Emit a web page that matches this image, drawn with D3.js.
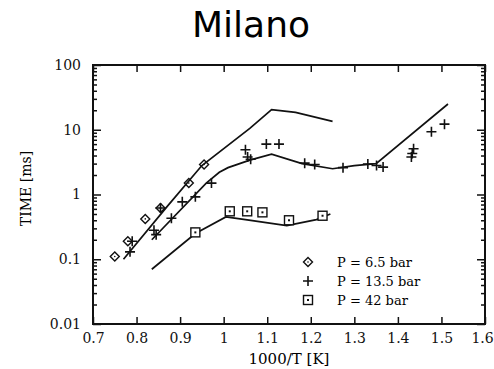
<!DOCTYPE html>
<html>
<head>
<meta charset="utf-8">
<script src="https://cdn.jsdelivr.net/npm/d3@7"></script>
<style>
  body { margin: 0; background: #fff; }
  svg { display: block; }
  .axis text { font-family: "DejaVu Serif", serif; font-size: 14px; fill: #111; }
  .axis path { display: none; }
  .axis line { stroke: #111; stroke-width: 1.5; }
</style>
</head>
<body>
<svg id="chart" width="494" height="369"></svg>
<script>
// data: x = 1000/T [K], y = time [ms]
var xTicks = [0.7, 0.8, 0.9, 1, 1.1, 1.2, 1.3, 1.4, 1.5, 1.6];
var xTickLabels = ["0.7", "0.8", "0.9", "1", "1.1", "1.2", "1.3", "1.4", "1.5", "1.6"];
var yTicks = [0.01, 0.1, 1, 10, 100];
var yTickLabels = ["0.01", "0.1", "1", "10", "100"];

// measured points
var p65X = [0.75, 0.78, 0.82, 0.855, 0.92, 0.955];
var p65Y = [0.11, 0.19, 0.42, 0.62, 1.5, 2.9];
var p135X = [0.785, 0.79, 0.84, 0.845, 0.855, 0.88, 0.905, 0.935, 0.972, 1.05, 1.055, 1.062, 1.098, 1.127, 1.186, 1.209, 1.274, 1.331, 1.351, 1.366, 1.431, 1.433, 1.436, 1.477, 1.507];
var p135Y = [0.13, 0.19, 0.28, 0.24, 0.62, 0.43, 0.77, 0.92, 1.5, 4.9, 3.8, 3.5, 6, 6, 3.05, 2.9, 2.6, 2.95, 2.8, 2.65, 3.8, 4.3, 5.1, 9.3, 12.2];
var p42X = [0.935, 1.014, 1.054, 1.089, 1.15, 1.227];
var p42Y = [0.26, 0.55, 0.55, 0.53, 0.4, 0.47];

// model curves
var line65X = [0.77, 0.87, 0.95, 1.06, 1.11, 1.165, 1.25];
var line65Y = [0.1, 0.65, 2.8, 10.5, 20.5, 18.5, 13.5];
var line135X = [0.835, 0.96, 0.99, 1.01, 1.06, 1.11, 1.18, 1.25, 1.3, 1.35, 1.515];
var line135Y = [0.2, 1.5, 2.2, 2.6, 3.4, 4.2, 3.0, 2.5, 2.8, 3.0, 25];
var line42X = [0.835, 0.935, 1.005, 1.05, 1.145, 1.213, 1.245];
var line42Y = [0.07, 0.25, 0.45, 0.41, 0.33, 0.41, 0.5];

var legendLabels = ["P = 6.5 bar", "P = 13.5 bar", "P = 42 bar"];

var svg = d3.select("#chart");
var plotL = 93, plotR = 485, plotT = 65, plotB = 324;

var x = d3.scaleLinear().domain([0.7, 1.6]).range([plotL, plotR]);
var y = d3.scaleLog().domain([0.01, 100]).range([plotB, plotT]);

// title
svg.append("text")
  .attr("x", 251).attr("y", 37)
  .attr("text-anchor", "middle")
  .style("font-family", "DejaVu Sans, sans-serif")
  .style("font-size", "36px")
  .text("Milano");

// minor log ticks
var minor = [];
for (var e = -2; e < 2; e++) {
  for (var m = 2; m < 10; m++) minor.push(m * Math.pow(10, e));
}

// axes, ticks point inward
var xAxisG = svg.append("g").attr("class", "axis")
  .attr("transform", "translate(0," + plotB + ")")
  .call(d3.axisBottom(x).tickValues(xTicks).tickSize(-7).tickPadding(9)
    .tickFormat(function (d, i) { return xTickLabels[i]; }));
// keep the last label inside the page
xAxisG.selectAll("text").filter(function (d) { return d === 1.6; }).attr("dx", -3);

svg.append("g").attr("class", "axis")
  .attr("transform", "translate(0," + plotT + ")")
  .call(d3.axisTop(x).tickValues(xTicks).tickSize(-7).tickFormat(""));

svg.append("g").attr("class", "axis")
  .attr("transform", "translate(" + plotL + ",0)")
  .call(d3.axisLeft(y).tickValues(yTicks).tickSize(-8).tickPadding(12)
    .tickFormat(function (d, i) { return yTickLabels[i]; }));
svg.append("g").attr("class", "axis")
  .attr("transform", "translate(" + plotL + ",0)")
  .call(d3.axisLeft(y).tickValues(minor).tickSize(-4).tickFormat(""));
svg.append("g").attr("class", "axis")
  .attr("transform", "translate(" + plotR + ",0)")
  .call(d3.axisRight(y).tickValues(yTicks).tickSize(-8).tickFormat(""));
svg.append("g").attr("class", "axis")
  .attr("transform", "translate(" + plotR + ",0)")
  .call(d3.axisRight(y).tickValues(minor).tickSize(-4).tickFormat(""));

// frame
svg.append("rect")
  .attr("x", plotL).attr("y", plotT)
  .attr("width", plotR - plotL).attr("height", plotB - plotT)
  .attr("fill", "none").attr("stroke", "#111").attr("stroke-width", 2);

// axis titles
svg.append("text")
  .attr("x", (plotL + plotR) / 2).attr("y", 364)
  .attr("text-anchor", "middle")
  .style("font-family", "DejaVu Serif, serif").style("font-size", "15px")
  .text("1000/T [K]");
svg.append("text")
  .attr("transform", "translate(31," + ((plotT + plotB) / 2 - 6) + ") rotate(-90)")
  .attr("text-anchor", "middle")
  .style("font-family", "DejaVu Serif, serif").style("font-size", "14px")
  .text("TIME [ms]");

// model lines
var line = d3.line().x(function (d) { return x(d[0]); }).y(function (d) { return y(d[1]); });
[[line65X, line65Y], [line135X, line135Y], [line42X, line42Y]].forEach(function (s) {
  svg.append("path")
    .datum(d3.zip(s[0], s[1]))
    .attr("d", line)
    .attr("fill", "none").attr("stroke", "#111").attr("stroke-width", 1.7);
});

// markers
function diamond(g) {
  g.append("path").attr("d", "M0,-4.5L4.5,0L0,4.5L-4.5,0Z")
    .attr("fill", "none").attr("stroke", "#111").attr("stroke-width", 1.4);
  g.append("circle").attr("r", 0.8).attr("fill", "#111");
}
function plus(g) {
  g.append("path").attr("d", "M-5,0H5M0,-5V5")
    .attr("fill", "none").attr("stroke", "#111").attr("stroke-width", 1.6);
}
function square(g) {
  g.append("rect").attr("x", -4.5).attr("y", -4.5).attr("width", 9).attr("height", 9)
    .attr("fill", "#fff").attr("stroke", "#111").attr("stroke-width", 1.4);
  g.append("rect").attr("x", -1).attr("y", -1).attr("width", 2).attr("height", 2).attr("fill", "#111");
}

function drawPoints(xs, ys, mark) {
  svg.append("g").selectAll("g")
    .data(d3.zip(xs, ys))
    .enter().append("g")
    .attr("transform", function (d) { return "translate(" + x(d[0]) + "," + y(d[1]) + ")"; })
    .each(function () { mark(d3.select(this)); });
}
drawPoints(p42X, p42Y, square);
drawPoints(p65X, p65Y, diamond);
drawPoints(p135X, p135Y, plus);

// legend
var marks = [diamond, plus, square];
var lg = svg.append("g");
legendLabels.forEach(function (t, i) {
  var yy = 262 + i * 19;
  marks[i](lg.append("g").attr("transform", "translate(308," + yy + ")"));
  lg.append("text")
    .attr("x", 337).attr("y", yy + 5)
    .style("font-family", "DejaVu Serif, serif").style("font-size", "13px")
    .text(t);
});
</script>
</body>
</html>
